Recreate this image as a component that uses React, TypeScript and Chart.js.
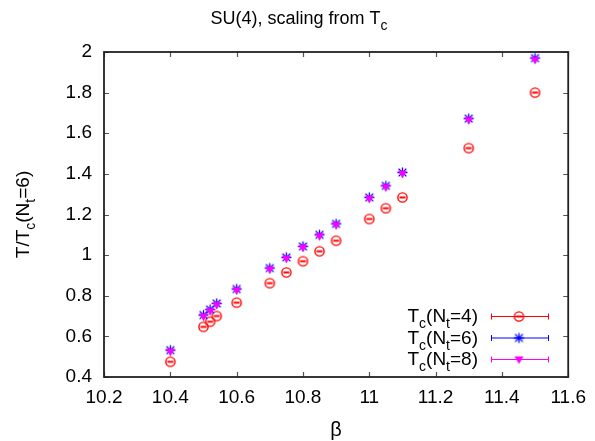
import React, { useEffect, useRef } from 'react';
import { Chart, registerables } from 'chart.js';

Chart.register(...registerables);

// ---- data ----
const beta = [10.4, 10.5, 10.52, 10.54, 10.6, 10.7, 10.75, 10.8, 10.85, 10.9, 11.0, 11.05, 11.1, 11.3, 11.5];
const tcNt4 = [0.475, 0.647, 0.672, 0.700, 0.766, 0.862, 0.915, 0.970, 1.019, 1.071, 1.178, 1.231, 1.284, 1.527, 1.800];
const tcNt6 = [0.532, 0.705, 0.732, 0.762, 0.833, 0.936, 0.989, 1.043, 1.100, 1.154, 1.284, 1.341, 1.407, 1.672, 1.970];
const tcNt8 = [0.525, 0.698, 0.725, 0.755, 0.827, 0.930, 0.983, 1.037, 1.094, 1.148, 1.278, 1.335, 1.401, 1.665, 1.962];

const xTickValues = [10.2, 10.4, 10.6, 10.8, 11.0, 11.2, 11.4, 11.6];
const yTickValues = [0.4, 0.6, 0.8, 1.0, 1.2, 1.4, 1.6, 1.8, 2.0];

type Part = { t: string; sub?: boolean };
const titleParts: Part[] = [{ t: 'SU(4), scaling from T' }, { t: 'c', sub: true }];
const yTitleParts: Part[] = [{ t: 'T/T' }, { t: 'c', sub: true }, { t: '(N' }, { t: 't', sub: true }, { t: '=6)' }];
const xTitle = 'β';
const legendParts: Part[][] = [
  [{ t: 'T' }, { t: 'c', sub: true }, { t: '(N' }, { t: 't', sub: true }, { t: '=4)' }],
  [{ t: 'T' }, { t: 'c', sub: true }, { t: '(N' }, { t: 't', sub: true }, { t: '=6)' }],
  [{ t: 'T' }, { t: 'c', sub: true }, { t: '(N' }, { t: 't', sub: true }, { t: '=8)' }],
];
const seriesColors = ['#ff0000', '#0000ff', '#ff00ff'];

const FONT = '"Liberation Sans", Arial, Helvetica, sans-serif';

function drawRich(ctx: CanvasRenderingContext2D, parts: Part[], x: number, y: number, align: 'left' | 'center' | 'right', size: number) {
  const main = `${size}px ${FONT}`;
  const sub = `${Math.round(size * 0.75)}px ${FONT}`;
  let total = 0;
  const widths = parts.map((p) => {
    ctx.font = p.sub ? sub : main;
    const w = ctx.measureText(p.t).width;
    total += w;
    return w;
  });
  let cx = align === 'right' ? x - total : align === 'center' ? x - total / 2 : x;
  ctx.textAlign = 'left';
  ctx.textBaseline = 'alphabetic';
  parts.forEach((p, i) => {
    ctx.font = p.sub ? sub : main;
    ctx.fillText(p.t, cx, y + (p.sub ? size * 0.32 : 0));
    cx += widths[i];
  });
}

function makeCircleMarker(): HTMLCanvasElement {
  const c = document.createElement('canvas');
  c.width = 13; c.height = 13;
  const g = c.getContext('2d')!;
  g.strokeStyle = '#ff0000';
  g.lineWidth = 1.4;
  g.beginPath();
  g.arc(6.5, 6.5, 4.6, 0, Math.PI * 2);
  g.stroke();
  g.lineWidth = 2;
  g.beginPath();
  g.moveTo(3.5, 6.5); g.lineTo(9.5, 6.5);
  g.stroke();
  return c;
}

function makeStarMarker(): HTMLCanvasElement {
  const c = document.createElement('canvas');
  c.width = 13; c.height = 13;
  const g = c.getContext('2d')!;
  g.strokeStyle = '#0000ff';
  g.lineWidth = 1.3;
  const r = 5;
  g.beginPath();
  g.moveTo(6.5 - r, 6.5); g.lineTo(6.5 + r, 6.5);
  g.moveTo(6.5, 6.5 - r); g.lineTo(6.5, 6.5 + r);
  const d = r * 0.78;
  g.moveTo(6.5 - d, 6.5 - d); g.lineTo(6.5 + d, 6.5 + d);
  g.moveTo(6.5 - d, 6.5 + d); g.lineTo(6.5 + d, 6.5 - d);
  g.stroke();
  return c;
}

function makeTriangleMarker(): HTMLCanvasElement {
  const c = document.createElement('canvas');
  c.width = 13; c.height = 13;
  const g = c.getContext('2d')!;
  g.fillStyle = '#ff00ff';
  g.beginPath();
  g.moveTo(2, 3.5); g.lineTo(11, 3.5); g.lineTo(6.5, 11);
  g.closePath();
  g.fill();
  return c;
}

export default function App() {
  const ref = useRef<HTMLCanvasElement | null>(null);

  useEffect(() => {
    if (!ref.current) return;
    const markers = [makeCircleMarker(), makeStarMarker(), makeTriangleMarker()];
    const series = [tcNt4, tcNt6, tcNt8];

    const framePlugin = {
      id: 'frame',
      afterDraw(chart: any) {
        const ctx: CanvasRenderingContext2D = chart.ctx;
        const a = chart.chartArea;
        const xs = chart.scales.x;
        const ys = chart.scales.y;
        ctx.save();
        // ticks
        ctx.strokeStyle = '#555';
        ctx.lineWidth = 1.2;
        const tl = 5;
        ctx.beginPath();
        xTickValues.forEach((v) => {
          const px = Math.round(xs.getPixelForValue(v)) + 0.5;
          ctx.moveTo(px, a.bottom); ctx.lineTo(px, a.bottom - tl);
          ctx.moveTo(px, a.top); ctx.lineTo(px, a.top + tl);
        });
        yTickValues.forEach((v) => {
          const py = Math.round(ys.getPixelForValue(v)) + 0.5;
          ctx.moveTo(a.left, py); ctx.lineTo(a.left + tl, py);
          ctx.moveTo(a.right, py); ctx.lineTo(a.right - tl, py);
        });
        ctx.stroke();
        // border
        ctx.strokeStyle = '#222';
        ctx.lineWidth = 1.8;
        ctx.strokeRect(a.left, a.top, a.right - a.left, a.bottom - a.top);

        ctx.fillStyle = '#000';
        // title
        drawRich(ctx, titleParts, 299, 24, 'center', 18);
        // x title
        ctx.font = `20px ${FONT}`;
        ctx.textAlign = 'center';
        ctx.textBaseline = 'alphabetic';
        ctx.fillText(xTitle, (a.left + a.right) / 2, 436);
        // y title
        ctx.save();
        ctx.translate(29, (a.top + a.bottom) / 2);
        ctx.rotate(-Math.PI / 2);
        drawRich(ctx, yTitleParts, 0, 0, 'center', 19);
        ctx.restore();

        // legend
        const rowsY = [316, 337.5, 359];
        legendParts.forEach((parts, i) => {
          const ly = rowsY[i];
          ctx.fillStyle = '#000';
          drawRich(ctx, parts, 478, ly + 6, 'right', 19);
          ctx.strokeStyle = seriesColors[i];
          ctx.lineWidth = 1;
          ctx.beginPath();
          ctx.moveTo(491, ly + 0.5); ctx.lineTo(548, ly + 0.5);
          ctx.moveTo(491.5, ly - 2.5); ctx.lineTo(491.5, ly + 3.5);
          ctx.moveTo(548.5, ly - 2.5); ctx.lineTo(548.5, ly + 3.5);
          ctx.stroke();
          const m = markers[i];
          ctx.drawImage(m, 519 - m.width / 2, ly - m.height / 2 + 0.5);
        });
        ctx.restore();
      },
    };

    const chart = new Chart(ref.current, {
      type: 'scatter',
      data: {
        datasets: series.map((vals, i) => ({
          label: `Nt${[4, 6, 8][i]}`,
          data: beta.map((b, j) => ({ x: b, y: vals[j] })),
          pointStyle: markers[i] as any,
          pointRadius: 5,
          borderColor: seriesColors[i],
          backgroundColor: seriesColors[i],
          showLine: false,
          order: 3 - i,
        })),
      },
      options: {
        animation: false,
        responsive: false,
        devicePixelRatio: 1,
        layout: { padding: { top: 52, right: 23, left: 0, bottom: 0 } },
        plugins: { legend: { display: false }, title: { display: false }, tooltip: { enabled: false } },
        scales: {
          x: {
            type: 'linear',
            min: 10.2,
            max: 11.6,
            grid: { display: false, drawTicks: false },
            border: { display: false },
            afterBuildTicks: (s: any) => { s.ticks = xTickValues.map((v) => ({ value: v })); },
            afterFit: (s: any) => { s.height = 64; },
            ticks: {
              padding: 9,
              color: '#000',
              font: { family: FONT, size: 19 },
              maxRotation: 0,
              autoSkip: false,
              callback: (v: any) => String(Number(Number(v).toFixed(1))),
            },
          },
          y: {
            type: 'linear',
            min: 0.4,
            max: 2,
            grid: { display: false, drawTicks: false },
            border: { display: false },
            afterBuildTicks: (s: any) => { s.ticks = yTickValues.map((v) => ({ value: v })); },
            afterFit: (s: any) => { s.width = 104; },
            ticks: {
              padding: 12,
              color: '#000',
              font: { family: FONT, size: 19 },
              autoSkip: false,
              callback: (v: any) => String(Number(Number(v).toFixed(1))),
            },
          },
        },
      },
      plugins: [framePlugin],
    });
    return () => chart.destroy();
  }, []);

  return (
    <div style={{ position: 'fixed', left: 0, top: 0, width: 595, height: 441, background: '#fff' }}>
      <canvas ref={ref} width={595} height={441} style={{ width: 595, height: 441, display: 'block' }} />
    </div>
  );
}
